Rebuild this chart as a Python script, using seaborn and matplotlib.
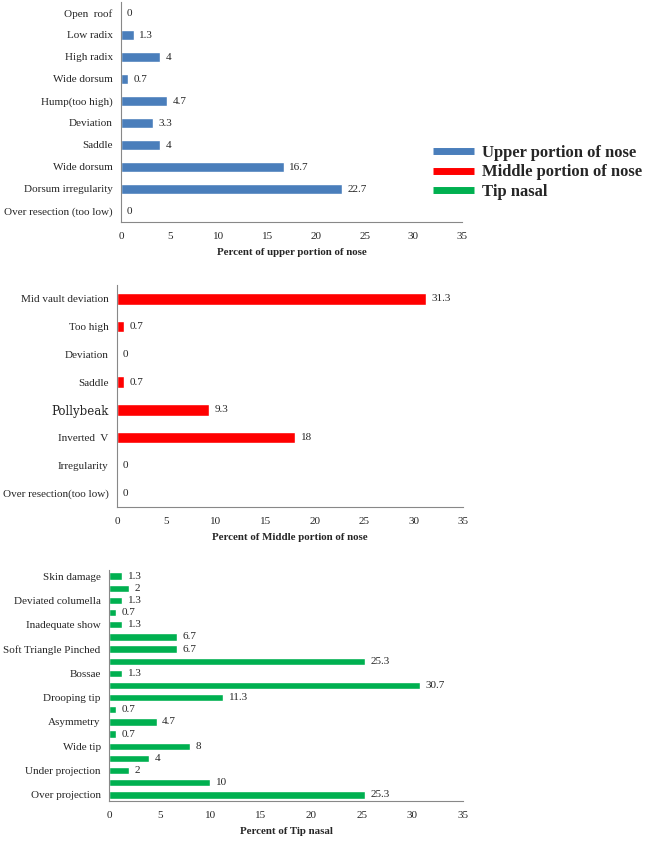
import matplotlib

matplotlib.use("Agg")
import matplotlib.pyplot as plt
import pandas as pd
import seaborn as sns
from matplotlib.lines import Line2D
from matplotlib.ticker import FixedLocator


UPPER_LABELS = [
    "Open  roof", "Low radix", "High radix", "Wide dorsum", "Hump(too high)",
    "Deviation", "Saddle", "Wide dorsum", "Dorsum irregularity", "Over resection (too low)",
]
UPPER_VALUES = [0, 1.3, 4, 0.7, 4.7, 3.3, 4, 16.7, 22.7, 0]

MIDDLE_LABELS = [
    "Mid vault deviation", "Too high", "Deviation", "Saddle", "Pollybeak",
    "Inverted  V", "Irregularity", "Over resection(too low)",
]
MIDDLE_VALUES = [31.3, 0.7, 0, 0.7, 9.3, 18, 0, 0]

TIP_LABELS = [
    "Skin damage", "", "Deviated columella", "", "Inadequate show", "",
    "Soft Triangle Pinched", "", "Bossae", "", "Drooping tip", "", "Asymmetry", "",
    "Wide tip", "", "Under projection", "", "Over projection",
]
TIP_VALUES = [1.3, 2, 1.3, 0.7, 1.3, 6.7, 6.7, 25.3, 1.3, 30.7, 11.3, 0.7, 4.7, 0.7, 8, 4, 2, 10, 25.3]

BLUE = "#4a7ebb"
RED = "#ff0000"
GREEN = "#00b050"

W, H = 648, 842
SERIF = "Liberation Serif"


def fmt(v):
    return f"{v:g}"


def draw_panel(fig, rect_px, labels, values, color, bar_width, xlabel):
    left, top, right, bottom = rect_px
    ax = fig.add_axes([left / W, 1 - bottom / H, (right - left) / W, (bottom - top) / H])
    df = pd.DataFrame({"cat": [f"c{i}" for i in range(len(values))], "value": values})
    sns.barplot(data=df, x="value", y="cat", orient="h", color=color, width=bar_width,
                saturation=1, ax=ax)
    ax.set_xlim(0, 35)
    ax.set_xticks(range(0, 36, 5))
    n = len(values)
    ax.set_ylim(n - 0.5, -0.5)
    ax.set_yticks(range(n))
    ax.set_yticklabels(labels)
    ax.yaxis.set_minor_locator(FixedLocator([i - 0.5 for i in range(n + 1)]))
    ax.tick_params(axis="y", which="major", length=0, pad=6, labelsize=8)
    ax.tick_params(axis="y", which="minor", length=4, color="#888888", width=0.8)
    ax.tick_params(axis="x", length=4, color="#888888", width=0.8, labelsize=8, pad=3)
    for s in ["top", "right"]:
        ax.spines[s].set_visible(False)
    for s in ["left", "bottom"]:
        ax.spines[s].set_color("#888888")
        ax.spines[s].set_linewidth(0.8)
    ax.set_xlabel(xlabel, fontsize=7.8, fontweight="bold", labelpad=5)
    ax.set_ylabel("")
    ax.bar_label(ax.containers[0], labels=[fmt(v) for v in values], padding=4, fontsize=8)
    ax.grid(False)
    return ax


sns.set_theme(style="white")
plt.rcParams["font.family"] = [SERIF, "DejaVu Serif"]

fig = plt.figure(figsize=(W / 100, H / 100), dpi=100)

draw_panel(fig, (121, 2, 462, 222), UPPER_LABELS, UPPER_VALUES, BLUE, 0.48,
           "Percent of upper portion of nose")
ax2 = draw_panel(fig, (117, 285, 463, 507), MIDDLE_LABELS, MIDDLE_VALUES, RED, 0.42,
                 "Percent of Middle portion of nose")
for t in ax2.get_yticklabels():
    if t.get_text() == "Pollybeak":
        t.set_fontfamily("DejaVu Serif")
        t.set_fontsize(8.5)
draw_panel(fig, (109, 570, 463, 801), TIP_LABELS, TIP_VALUES, GREEN, 0.6,
           "Percent of Tip nasal")

handles = [Line2D([], [], color=c, lw=5, solid_capstyle="butt") for c in (BLUE, RED, GREEN)]
fig.legend(handles, ["Upper portion of nose", "Middle portion of nose", "Tip nasal"],
           loc="upper left", bbox_to_anchor=(418 / W, 1 - 130 / H), frameon=False,
           handlelength=2.45, handletextpad=0.5, labelspacing=0.2,
           prop={"family": SERIF, "weight": "bold", "size": 12})

fig.savefig("out.png", dpi=100)
